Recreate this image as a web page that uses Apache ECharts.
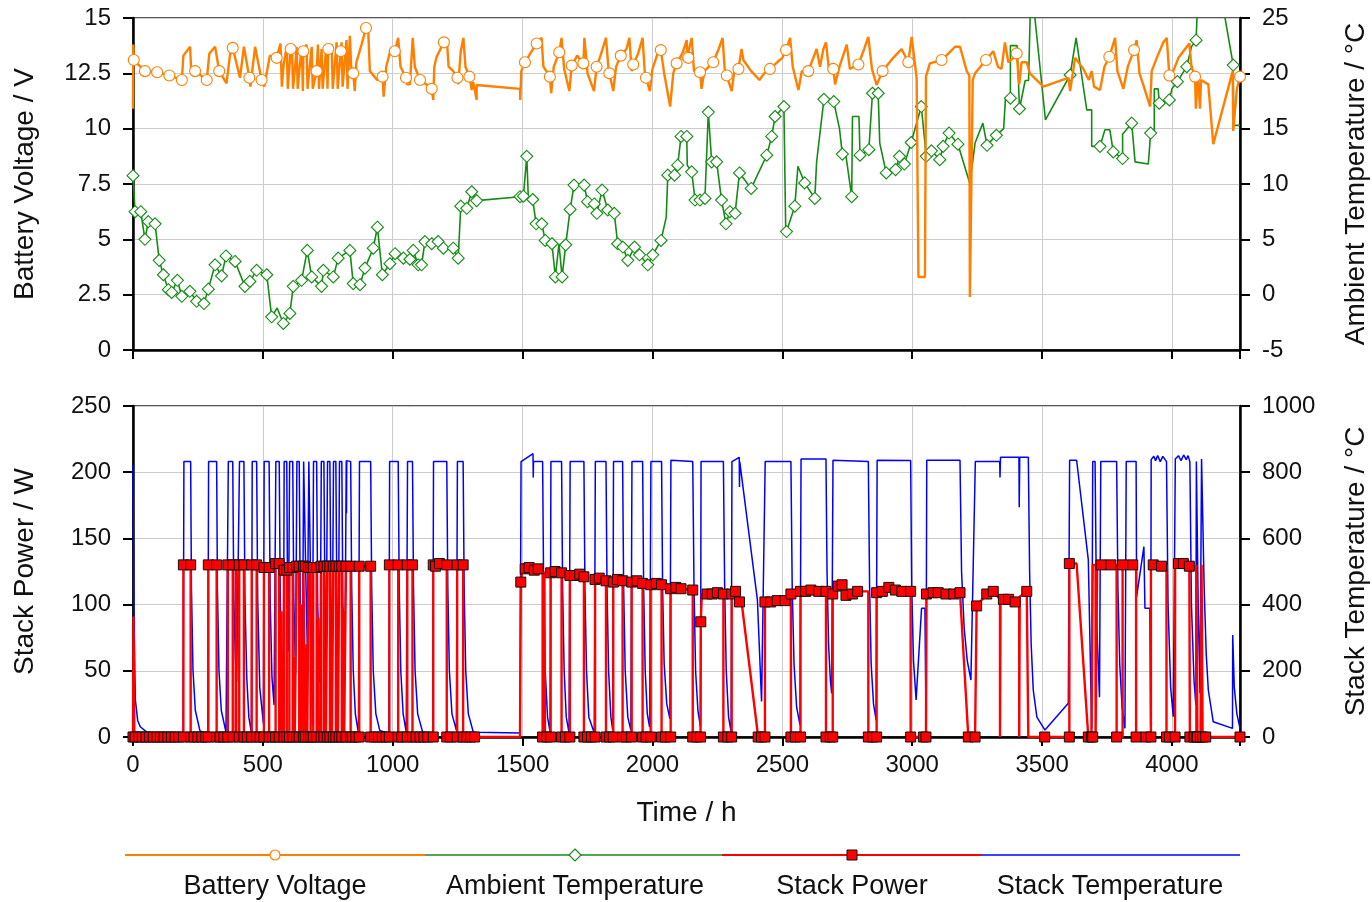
<!DOCTYPE html>
<html>
<head>
<meta charset="utf-8">
<title>Stack field test</title>
<script src="https://cdn.jsdelivr.net/npm/echarts@6.0.0/dist/echarts.min.js"></script>
<style>
html, body { margin: 0; padding: 0; background: #fff; }
#chart { width: 1372px; height: 902px; }
</style>
</head>
<body>
<div id="chart"></div>
<script>
// time in h, value, and a 1 where the plot shows a marker
var batteryVoltage = [
  [0,10.9],[1,13.8],[3,13.1,1],[46,12.6,1],[93,12.55,1],[140,12.4,1],[188,12.2,1],[194,13.3],[220,13.7],[224,12.6],
  [239,12.6,1],[284,12.2,1],[294,13.4],[316,13.7],[332,12.6,1],[360,12.05],[373,13.3],[384,13.65,1],[412,12.3],[427,13.7],
  [448,12.3,1],[452,11.9],[470,13.7],[495,12.2,1],[505,11.9],[527,13.3],[553,13.2,1],[568,13.85],[573,11.9],[580,12.9],
  [592,13.7],[596,11.8],[607,13.6,1],[612,13.8],[616,11.8],[624,12.8],[630,13.7],[634,11.8],[645,13.2],[650,13.7],
  [654,11.7],[656,13.5,1],[668,13.8],[672,11.8],[688,13.7],[692,11.8],[707,12.6,1],[712,13.8],[716,11.8],[726,13.6],
  [730,11.8],[745,13.8],[749,11.8],[752,13.6,1],[765,13.8],[769,11.8],[784,13.9],[788,11.8],[800,13.5,1],[803,13.9],
  [807,11.9],[822,14.0],[826,11.8],[835,14.2],[840,12.8],[848,12.5,1],[854,11.7],[860,13.0],[880,13.8],[897,14.55,1],
  [906,14.3],[912,12.6],[940,12.2],[961,12.35,1],[965,11.45],[975,12.8],[990,13.5],[1008,13.5,1],[1021,14.1],[1030,12.8],
  [1051,12.3,1],[1056,12.0],[1066,12.0],[1077,14.1],[1085,12.8],[1105,12.2,1],[1130,12.0],[1150,11.8,1],[1156,11.3],[1160,12.8],
  [1169,13.25],[1197,13.9,1],[1208,14.1],[1215,12.8],[1233,12.6],[1249,12.3,1],[1252,12.0],[1262,13.5],[1272,14.1],[1280,12.8],
  [1295,12.35,1],[1304,11.75],[1310,12.1],[1323,11.3],[1323,11.97],[1490,11.8],[1491,11.3],[1495,12.6],[1509,13.0,1],[1530,13.4],
  [1554,13.85,1],[1573,14.1],[1580,12.8],[1605,12.35,1],[1610,11.6],[1620,12.8],[1641,13.45,1],[1650,14.1],[1660,12.7],[1680,11.7],
  [1689,12.85,1],[1710,13.3],[1734,12.95,1],[1738,14.1],[1750,12.5],[1775,11.7],[1785,12.8,1],[1800,13.3],[1821,14.1],[1830,12.8],
  [1834,12.5,1],[1849,11.7],[1860,12.8],[1878,13.3,1],[1900,13.6],[1911,14.1],[1920,12.6],[1926,12.9,1],[1945,13.4],[1962,14.1],
  [1970,12.6],[1975,12.3,1],[1990,11.7],[2000,12.7],[2020,13.4],[2032,13.55,1],[2045,12.5],[2068,11.0],[2080,12.5],[2093,12.95,1],
  [2115,13.4],[2132,14.0],[2134,13.25,1],[2138,13.2,1],[2151,14.1],[2160,12.6],[2183,12.55,1],[2189,11.8],[2200,12.6],[2234,13.0,1],
  [2255,13.6],[2270,14.1],[2278,12.7],[2286,12.4,1],[2305,11.7],[2315,12.6],[2331,12.7,1],[2343,13.6],[2350,13.1],[2380,12.6],
  [2412,12.2],[2430,12.5],[2452,12.7,1],[2480,13.0],[2500,13.2],[2514,13.55,1],[2530,14.1],[2540,12.8],[2562,11.75],[2575,12.6],
  [2600,12.6,1],[2632,13.6],[2645,12.8],[2658,13.6],[2668,13.9],[2680,12.6],[2696,12.7,1],[2703,12.0],[2720,12.8],[2748,13.8],
  [2760,12.7],[2793,12.9,1],[2815,13.6],[2831,14.15],[2845,12.7],[2863,11.97],[2886,12.6,1],[2927,13.2],[2959,13.6],[2985,13.0,1],
  [2998,14.15],[3017,12.3],[3024,3.3],[3049,3.3],[3053,12.35],[3068,12.95],[3113,13.1,1],[3140,13.4],[3165,13.7],[3184,13.7],
  [3210,12.6],[3220,12.4],[3222,2.4],[3226,2.4],[3233,12.2],[3242,12.5],[3284,13.1,1],[3312,13.5],[3330,12.8],[3344,12.7],
  [3357,13.9],[3370,13.0],[3389,13.2],[3402,13.4,1],[3412,12.0],[3421,13.0],[3441,13.0],[3453,12.5],[3505,11.9],[3601,12.3],
  [3608,11.7],[3627,13.2],[3640,13.0],[3659,12.7],[3680,12.2],[3691,12.6],[3700,11.9],[3723,11.75],[3740,12.8],[3759,13.25,1],
  [3781,14.1],[3790,12.6],[3813,11.8],[3830,12.8],[3854,13.55,1],[3864,14.0],[3875,12.5],[3890,11.97],[3916,11.0],[3922,12.6],
  [3945,13.3],[3967,13.9],[3980,14.1],[3990,12.4,1],[4005,12.6],[4025,13.2],[4057,13.7],[4067,13.85],[4075,12.8],[4089,12.35,1],
  [4092,10.9],[4100,12.4],[4105,12.4],[4108,10.9],[4112,12.2],[4140,12.0],[4159,9.3],[4234,12.6],[4236,9.9],[4250,11.8],
  [4262,12.35,1]
];

var ambientTemp = [
  [0,10.75,1],[8,7.5,1],[30,7.5,1],[46,5.0,1],[59,6.6,1],[85,6.4,1],[101,3.1,1],[117,1.8,1],[136,0.45,1],[149,0.2,1],
  [171,1.3,1],[188,-0.15,1],[219,0.3,1],[245,-0.6,1],[273,-0.8,1],[290,0.5,1],[316,2.7,1],[341,1.7,1],[358,3.5,1],[393,3.0,1],
  [431,0.75,1],[450,1.2,1],[476,2.2,1],[515,1.8,1],[534,-2.0,1],[555,-1.2],[579,-2.6,1],[604,-1.7,1],[617,0.75,1],[649,1.3,1],
  [671,4.0,1],[688,1.6,1],[726,0.75,1],[733,2.2,1],[771,1.6,1],[790,3.3,1],[835,4.0,1],[848,1.0,1],[874,0.9,1],[893,2.4,1],
  [925,4.2,1],[941,6.1,1],[960,1.8,1],[989,2.8,1],[1009,3.7,1],[1041,3.3,1],[1066,3.2,1],[1079,4.0,1],[1098,2.7,1],[1111,2.7,1],
  [1124,4.8,1],[1150,4.6,1],[1175,4.8,1],[1195,4.2,1],[1233,4.2,1],[1252,3.3,1],[1262,8.0,1],[1285,7.8,1],[1304,9.3,1],[1323,8.5,1],
  [1490,8.85,1],[1503,8.9,1],[1516,12.5,1],[1520,12.5],[1522,8.8],[1539,8.6,1],[1552,6.4,1],[1574,6.4,1],[1587,4.9,1],[1613,4.6,1],
  [1626,1.6,1],[1640,4.6],[1652,1.6,1],[1666,4.5,1],[1683,7.7,1],[1698,9.9,1],[1737,9.9,1],[1750,8.4,1],[1776,8.2,1],[1786,7.35,1],
  [1806,9.45,1],[1828,7.65,1],[1853,7.35,1],[1866,4.6,1],[1886,4.3,1],[1905,3.1,1],[1931,4.3,1],[1950,3.6,1],[1982,2.7,1],[2001,3.6,1],
  [2033,4.9,1],[2053,7.0],[2059,10.8,1],[2085,10.8,1],[2097,11.7,1],[2110,14.3,1],[2132,14.3,1],[2134,11.7],[2151,11.1,1],[2164,8.55,1],
  [2183,8.55,1],[2202,8.7,1],[2215,16.5,1],[2228,12.0,1],[2247,12.0,1],[2266,8.55,1],[2283,6.4,1],[2298,7.5,1],[2318,7.35,1],[2335,11.0,1],
  [2380,9.6,1],[2440,12.6,1],[2459,14.3,1],[2472,16.1,1],[2506,17.0,1],[2513,5.9],[2516,5.7,1],[2548,8.0,1],[2560,11.6],[2586,10.1,1],
  [2625,8.7,1],[2632,12.0],[2660,17.65,1],[2698,17.45,1],[2720,15.0],[2731,12.7,1],[2744,12.7],[2767,8.85,1],[2770,16.1],[2795,16.1],
  [2799,12.6,1],[2833,13.1,1],[2847,18.2,1],[2869,18.2,1],[2875,13.7],[2900,11.0,1],[2936,11.3,1],[2951,12.5,1],[2970,11.8,1],[2996,13.75,1],
  [3035,17.0,1],[3054,12.5,1],[3074,13.0,1],[3106,12.2,1],[3119,13.4,1],[3142,14.6,1],[3176,13.6,1],[3222,10.05],[3242,13.7],[3272,15.5],
  [3288,13.5,1],[3324,14.4,1],[3352,15.0],[3359,17.75],[3378,17.75,1],[3378,22.5],[3404,22.5],[3413,16.8,1],[3435,19.35],[3448,19.35],
  [3455,26],[3468,26],[3513,15.8],[3608,19.85,1],[3631,23.2],[3672,16.7],[3691,16.7],[3691,13.4],[3723,13.4,1],[3742,14.9],
  [3761,14.9],[3774,12.9,1],[3810,12.3,1],[3810,14.5],[3845,15.5,1],[3858,12.0],[3909,11.8],[3918,14.6,1],[3932,14.6],[3932,18.6],
  [3947,18.6],[3951,17.3,1],[3990,17.6,1],[4000,18.6],[4021,19.25,1],[4057,20.6,1],[4075,22.4],[4093,23.0,1],[4098,26],[4197,26],
  [4236,20.75,1],[4238,15.3],[4262,15.3]
];

var stackPower = [
  [0,0,1],[2,91],[5,0],[8,0,1],[22,0,1],[36,0,1],[50,0,1],[64,0,1],[78,0,1],[92,0,1],[106,0,1],[120,0,1],[134,0,1],[148,0,1],[162,0,1],[176,0,1],
  [194,0,1],[194,130,1],[222,130,1],[222,0,1],[235,0,1],[250,0,1],[265,0,1],[280,0,1],
  [290,0,1],[290,130,1],[322,130,1],[322,0,1],[335,0,1],[350,0,1],
  [365,0,1],[365,130,1],[384,130,1],[384,0,1],[395,0],[396,130],[398,0],
  [409,0,1],[409,130,1],[427,130,1],[427,0,1],[440,0,1],
  [457,0,1],[457,130,1],[476,130,1],[476,0,1],[490,0,1],
  [504,0,1],[504,128,1],[524,128,1],[524,0,1],[537,0,1],
  [549,0,1],[549,131,1],[563,131,1],[563,0,1],[570,0],[571,95],[573,0],
  [581,0,1],[581,126,1],[592,126,1],[592,0,1],
  [602,0,1],[602,128,1],[615,128,1],[615,0,1],[620,0],[621,60],[623,0],
  [630,0,1],[630,129,1],[640,129,1],[640,0,1],[645,0],[646,100],[648,0],
  [656,0,1],[656,129,1],[663,129,1],[663,0,1],[668,0],[669,70],[671,0],
  [676,0,1],[676,128,1],[684,128,1],[684,0,1],
  [694,0,1],[694,128,1],[707,128,1],[707,0,1],[712,0],[713,90],[715,0],
  [724,0,1],[724,129,1],[735,129,1],[735,0,1],[740,0],[741,55],[743,0],
  [748,0,1],[748,129,1],[758,129,1],[758,0,1],[763,0],[764,80],[766,0],
  [771,0,1],[771,129,1],[781,129,1],[781,0,1],[786,0],[787,60],[789,0],
  [794,0,1],[794,129,1],[804,129,1],[804,0,1],[810,0],[811,95],[813,0],
  [820,0,1],[820,129,1],[838,129,1],[838,0,1],[845,0,1],[858,0,1],
  [871,0,1],[871,129,1],[915,129,1],[915,0,1],[930,0,1],[945,0,1],[960,0,1],[975,0,1],
  [987,0,1],[987,130,1],[1021,130,1],[1021,0,1],[1035,0,1],
  [1056,0,1],[1056,130,1],[1076,130,1],[1076,0,1],[1090,0,1],[1105,0,1],[1120,0,1],[1135,0,1],
  [1156,0,1],[1156,130,1],[1165,129,1],[1180,131,1],[1208,130,1],[1208,0,1],[1222,0,1],
  [1248,0,1],[1248,130,1],[1271,130,1],[1271,0,1],[1285,0,1],[1300,0,1],[1315,0,1],[1330,0],[1490,0],
  [1493,0],[1493,117,1],[1500,128],[1505,131],[1510,127,1],[1525,128,1],[1545,126,1],[1560,127,1],[1577,126],[1577,0,1],[1583,0],[1584,125],[1586,0],[1593,0,1],
  [1608,0,1],[1608,124,1],[1625,125,1],[1650,124,1],[1650,0,1],[1665,0,1],
  [1682,0,1],[1682,122,1],[1700,122,1],[1720,123,1],[1736,121,1],[1736,0,1],[1750,0,1],[1765,0,1],
  [1779,0,1],[1779,119,1],[1795,120,1],[1821,118,1],[1821,0,1],[1835,0,1],
  [1849,0,1],[1849,117,1],[1865,119,1],[1885,118,1],[1885,0,1],[1900,0,1],
  [1920,0,1],[1920,117,1],[1940,118,1],[1962,116,1],[1962,0,1],[1975,0,1],
  [1993,0,1],[1993,115,1],[2015,116,1],[2035,115,1],[2035,0,1],[2050,0,1],
  [2070,0,1],[2070,112,1],[2090,113,1],[2110,112,1],[2155,111,1],[2155,0,1],[2170,0,1],
  [2185,0,1],[2186,87,1],[2190,108],[2210,108,1],[2230,108,1],[2250,109,1],[2273,108,1],[2273,0,1],[2290,0,1],
  [2305,0,1],[2305,108,1],[2320,110,1],[2335,102,1],[2343,102],[2407,0,1],[2420,0,1],
  [2433,0,1],[2433,102,1],[2455,102,1],[2480,103,1],[2510,103,1],[2533,108,1],[2533,0,1],[2550,0,1],
  [2570,0,1],[2570,110,1],[2590,110,1],[2610,111,1],[2640,110,1],[2668,110,1],[2668,0,1],[2685,0,1],
  [2694,0,1],[2694,108,1],[2715,114,1],[2730,115,1],[2745,107,1],[2770,108,1],[2790,110,1],[2831,110],[2831,0,1],[2848,0,1],
  [2863,0,1],[2863,109,1],[2885,110,1],[2910,113,1],[2935,111,1],[2960,110,1],[2994,110,1],[2994,0,1],[3043,0,1],
  [3053,0,1],[3055,108,1],[3080,109,1],[3100,109,1],[3130,108,1],[3160,108,1],[3184,109,1],[3216,0,1],
  [3242,0,1],[3248,99,1],[3287,108,1],[3312,110,1],[3338,104],[3338,0],[3340,0],[3340,104],[3351,104,1],[3371,104,1],[3396,102,1],
  [3412,104],[3412,0],[3414,0],[3414,106],[3441,110,1],[3447,110],[3447,0],[3510,0,1],
  [3605,0,1],[3605,131,1],[3633,131],[3678,0,1],[3690,0,1],
  [3695,0,1],[3695,130],[3706,130],[3706,0],[3712,0],[3712,130],[3727,130,1],[3765,130,1],[3787,130],[3787,0,1],
  [3810,0],[3810,130,1],[3849,130,1],[3862,130],[3862,0,1],[3900,0,1],
  [3919,0,1],[3919,130],[3928,130,1],[3960,129,1],[3979,130],[3979,0,1],[3990,0,1],
  [4012,0,1],[4012,130],[4025,131,1],[4044,131,1],[4067,129,1],[4069,0,1],[4085,0,1],
  [4094,0,1],[4094,130],[4098,130],[4098,0,1],[4110,0,1],[4114,0],[4114,130],[4118,130],[4118,0,1],[4130,0,1],[4262,0,1]
];

var stackTemp = [
  [0,822],[3,400],[9,112],[18,50],[28,31],[54,14],[120,10],[193,10],
  [196,832],[222,832],[225,450],[231,200],[240,80],[258,18],[288,10],
  [291,832],[322,832],[325,450],[331,200],[340,80],[358,15],[364,12],
  [367,832],[384,832],[388,420],[394,240],[399,167],
  [410,832],[427,832],[431,420],[438,180],[446,60],[456,12],
  [459,832],[476,832],[480,420],[488,150],[502,41],
  [505,832],[524,832],[528,420],[535,180],[543,97],
  [550,832],[563,832],[567,420],[573,200],[579,127],
  [582,832],[592,832],[595,420],[598,258],
  [603,832],[615,832],[619,420],[626,192],
  [631,832],[640,832],[644,400],[652,167],
  [657,832],[663,832],[667,420],[671,278],
  [677,832],[684,832],[687,300],[690,36],
  [695,832],[707,832],[711,400],[720,164],
  [725,832],[735,832],[739,400],[743,212],
  [749,832],[758,832],[762,400],[767,233],
  [772,832],[781,832],[785,400],[790,197],
  [795,832],[804,832],[808,400],[816,238],
  [821,835],[822,676],[823,835],[838,832],[842,450],[848,200],[856,70],[868,12],
  [872,832],[915,832],[919,450],[925,200],[935,70],[950,20],[985,10],
  [988,832],[1021,832],[1025,450],[1031,200],[1040,70],[1052,15],
  [1057,832],[1076,832],[1080,450],[1086,200],[1096,70],[1115,15],[1154,10],
  [1157,832],[1208,832],[1212,450],[1218,200],[1228,70],[1245,20],
  [1249,832],[1271,832],[1275,450],[1281,200],[1291,70],[1310,15],[1323,14],[1490,12],
  [1494,832],[1540,856],[1541,784],[1542,832],[1577,832],[1581,450],[1587,200],[1596,60],[1606,15],
  [1609,832],[1650,832],[1654,450],[1660,200],[1668,60],[1679,12],
  [1683,832],[1736,832],[1740,450],[1746,200],[1755,60],[1776,12],
  [1780,832],[1821,832],[1825,450],[1831,200],[1840,60],[1847,20],
  [1850,832],[1885,832],[1889,450],[1895,200],[1905,60],[1917,20],
  [1921,832],[1962,832],[1966,450],[1972,200],[1980,70],[1989,30],
  [1994,832],[2035,832],[2039,450],[2045,220],[2055,100],[2067,55],
  [2071,836],[2155,832],[2160,450],[2166,200],[2175,80],[2185,30],
  [2187,832],[2273,832],[2278,450],[2284,200],[2293,60],[2303,15],
  [2306,832],[2334,845],[2335,755],[2336,832],[2343,832],[2404,414],[2420,107],
  [2434,832],[2533,832],[2538,450],[2545,220],[2555,90],[2568,36],
  [2572,840],[2668,840],[2672,500],[2678,280],[2685,170],[2690,132],
  [2695,836],[2831,832],[2836,450],[2842,220],[2851,100],[2861,51],
  [2865,836],[2994,835],[2998,450],[3005,230],[3015,112],[3036,389],[3049,389],[3053,36],
  [3056,836],[3184,836],[3190,500],[3200,330],[3212,230],[3226,172],
  [3243,832],[3337,832],[3338,784],[3340,845],[3411,845],[3412,694],[3414,845],[3447,845],[3452,500],[3458,280],[3466,142],[3480,60],[3511,21],[3601,102],
  [3606,836],[3633,836],[3678,535],[3691,26],
  [3695,832],[3704,832],[3710,350],[3721,120],
  [3726,832],[3787,832],[3792,450],[3799,220],[3808,90],[3819,26],
  [3824,832],[3862,832],[3864,424],[3892,575],[3896,389],[3915,389],[3918,31],
  [3920,838],[3930,848],[3937,835],[3945,850],[3955,832],[3965,848],[3979,832],[3985,400],[3995,150],[4005,61],
  [4013,840],[4025,850],[4035,835],[4045,852],[4055,838],[4062,850],[4069,832],[4075,400],[4085,170],[4092,97],
  [4094,832],[4098,832],[4101,400],[4108,132],
  [4114,840],[4118,840],[4124,450],[4132,250],[4140,142],[4159,46],[4233,26],[4234,308],[4240,150],[4250,70],[4262,26]
];

var timeMax = 4262;
var legendNames = ['Battery Voltage', 'Ambient Temperature', 'Stack Power', 'Stack Temperature'];

var ORANGE = '#ff7f00', GREEN = '#148c14', RED = '#ff0000', BLUE = '#0000ff';
var FONT = 'Liberation Sans';

var myChart = echarts.init(document.getElementById('chart'));

function markedSymbol(shape) {
    return function (v) { return v[2] ? shape : 'none'; };
}

function xAxisFor(grid, showLabel) {
    return {
        type: 'value', gridIndex: grid, min: 0, max: timeMax, interval: 500,
        name: showLabel ? 'Time / h' : '', nameLocation: 'middle', nameGap: 62,
        nameTextStyle: { fontSize: 28, color: '#111', fontFamily: FONT },
        axisLine: { show: true, onZero: false, lineStyle: { color: '#000', width: 2.5 } },
        axisTick: { show: true, inside: false, length: 9, lineStyle: { color: '#000', width: 2 } },
        axisLabel: {
            show: showLabel, margin: 16, fontSize: 24, color: '#111', fontFamily: FONT,
            formatter: function (v) { return v % 500 === 0 ? String(v) : ''; }
        },
        splitLine: { show: true, lineStyle: { color: '#cccccc', width: 1 } }
    };
}

function yAxisFor(grid, pos, min, max, step, name, gap, split) {
    return {
        type: 'value', gridIndex: grid, position: pos, min: min, max: max, interval: step,
        name: name, nameLocation: 'middle', nameGap: gap, nameMoveOverlap: false,
        nameTextStyle: { fontSize: 28, color: '#111', fontFamily: FONT },
        axisLine: { show: true, lineStyle: { color: '#000', width: 2.5 } },
        axisTick: { show: true, inside: false, length: 10, lineStyle: { color: '#000', width: 2 } },
        axisLabel: { margin: 22, fontSize: 24, color: '#111', fontFamily: FONT,
            formatter: function (v) { return String(v); } },
        splitLine: { show: split, lineStyle: { color: '#cccccc', width: 1 } }
    };
}

// legend drawn underneath the plots: one long line split in four colours
var legendY = 855;
var legendGraphic = [
    { type: 'line', shape: { x1: 125, y1: legendY, x2: 425, y2: legendY }, style: { stroke: ORANGE, lineWidth: 2.2 } },
    { type: 'line', shape: { x1: 425, y1: legendY, x2: 722, y2: legendY }, style: { stroke: GREEN, lineWidth: 1.6 } },
    { type: 'line', shape: { x1: 722, y1: legendY, x2: 982, y2: legendY }, style: { stroke: RED, lineWidth: 2.2 } },
    { type: 'line', shape: { x1: 982, y1: legendY, x2: 1240, y2: legendY }, style: { stroke: BLUE, lineWidth: 1.4 } },
    { type: 'circle', shape: { cx: 275, cy: legendY, r: 5 }, style: { fill: '#fff', stroke: ORANGE, lineWidth: 1.2 } },
    { type: 'polygon', shape: { points: [[575, legendY - 6], [581, legendY], [575, legendY + 6], [569, legendY]] }, style: { fill: '#fff', stroke: GREEN, lineWidth: 1.2 } },
    { type: 'rect', shape: { x: 847, y: legendY - 5, width: 10, height: 10 }, style: { fill: RED, stroke: '#111', lineWidth: 1 } }
];
var legendCenters = [275, 575, 852, 1110];
legendNames.forEach(function (n, i) {
    legendGraphic.push({
        type: 'text',
        style: { text: n, x: legendCenters[i], y: 887, fill: '#111', font: '27px "' + FONT + '"',
            textAlign: 'center', textVerticalAlign: 'middle' }
    });
});

var option = {
    animation: false,
    textStyle: { fontFamily: FONT },
    grid: [
        { left: 133, right: 132, top: 18, height: 332, show: true, borderColor: '#222', borderWidth: 1.5, backgroundColor: 'transparent', outerBoundsMode: 'none' },
        { left: 133, right: 132, top: 406, height: 331, show: true, borderColor: '#222', borderWidth: 1.5, backgroundColor: 'transparent', outerBoundsMode: 'none' }
    ],
    xAxis: [xAxisFor(0, false), xAxisFor(1, true)],
    yAxis: [
        yAxisFor(0, 'left', 0, 15, 2.5, 'Battery Voltage / V', 94, true),
        yAxisFor(0, 'right', -5, 25, 5, 'Ambient Temperature / °C', 102, false),
        yAxisFor(1, 'left', 0, 250, 50, 'Stack Power / W', 94, true),
        yAxisFor(1, 'right', 0, 1000, 200, 'Stack Temperature / °C', 102, false)
    ],
    graphic: legendGraphic,
    series: [
        {
            name: 'Ambient Temperature', type: 'line', xAxisIndex: 0, yAxisIndex: 1, data: ambientTemp,
            symbol: markedSymbol('diamond'), symbolSize: 12, showSymbol: true, showAllSymbol: true,
            lineStyle: { color: GREEN, width: 1.6 },
            itemStyle: { color: '#fff', borderColor: GREEN, borderWidth: 1.1 },
            emphasis: { disabled: true }, silent: true, z: 2
        },
        {
            name: 'Battery Voltage', type: 'line', xAxisIndex: 0, yAxisIndex: 0, data: batteryVoltage,
            symbol: markedSymbol('circle'), symbolSize: 11, showSymbol: true, showAllSymbol: true,
            lineStyle: { color: ORANGE, width: 2.4 },
            itemStyle: { color: '#fff', borderColor: ORANGE, borderWidth: 1.1 },
            emphasis: { disabled: true }, silent: true, z: 3
        },
        {
            name: 'Stack Temperature', type: 'line', xAxisIndex: 1, yAxisIndex: 3, data: stackTemp,
            showSymbol: false, lineStyle: { color: BLUE, width: 1.5 },
            emphasis: { disabled: true }, silent: true, z: 2
        },
        {
            name: 'Stack Power', type: 'line', xAxisIndex: 1, yAxisIndex: 2, data: stackPower,
            symbol: markedSymbol('rect'), symbolSize: 10, showSymbol: true, showAllSymbol: true,
            lineStyle: { color: RED, width: 2.4 },
            itemStyle: { color: RED, borderColor: '#111', borderWidth: 1 },
            emphasis: { disabled: true }, silent: true, z: 3
        }
    ]
};

myChart.setOption(option);
</script>
</body>
</html>
